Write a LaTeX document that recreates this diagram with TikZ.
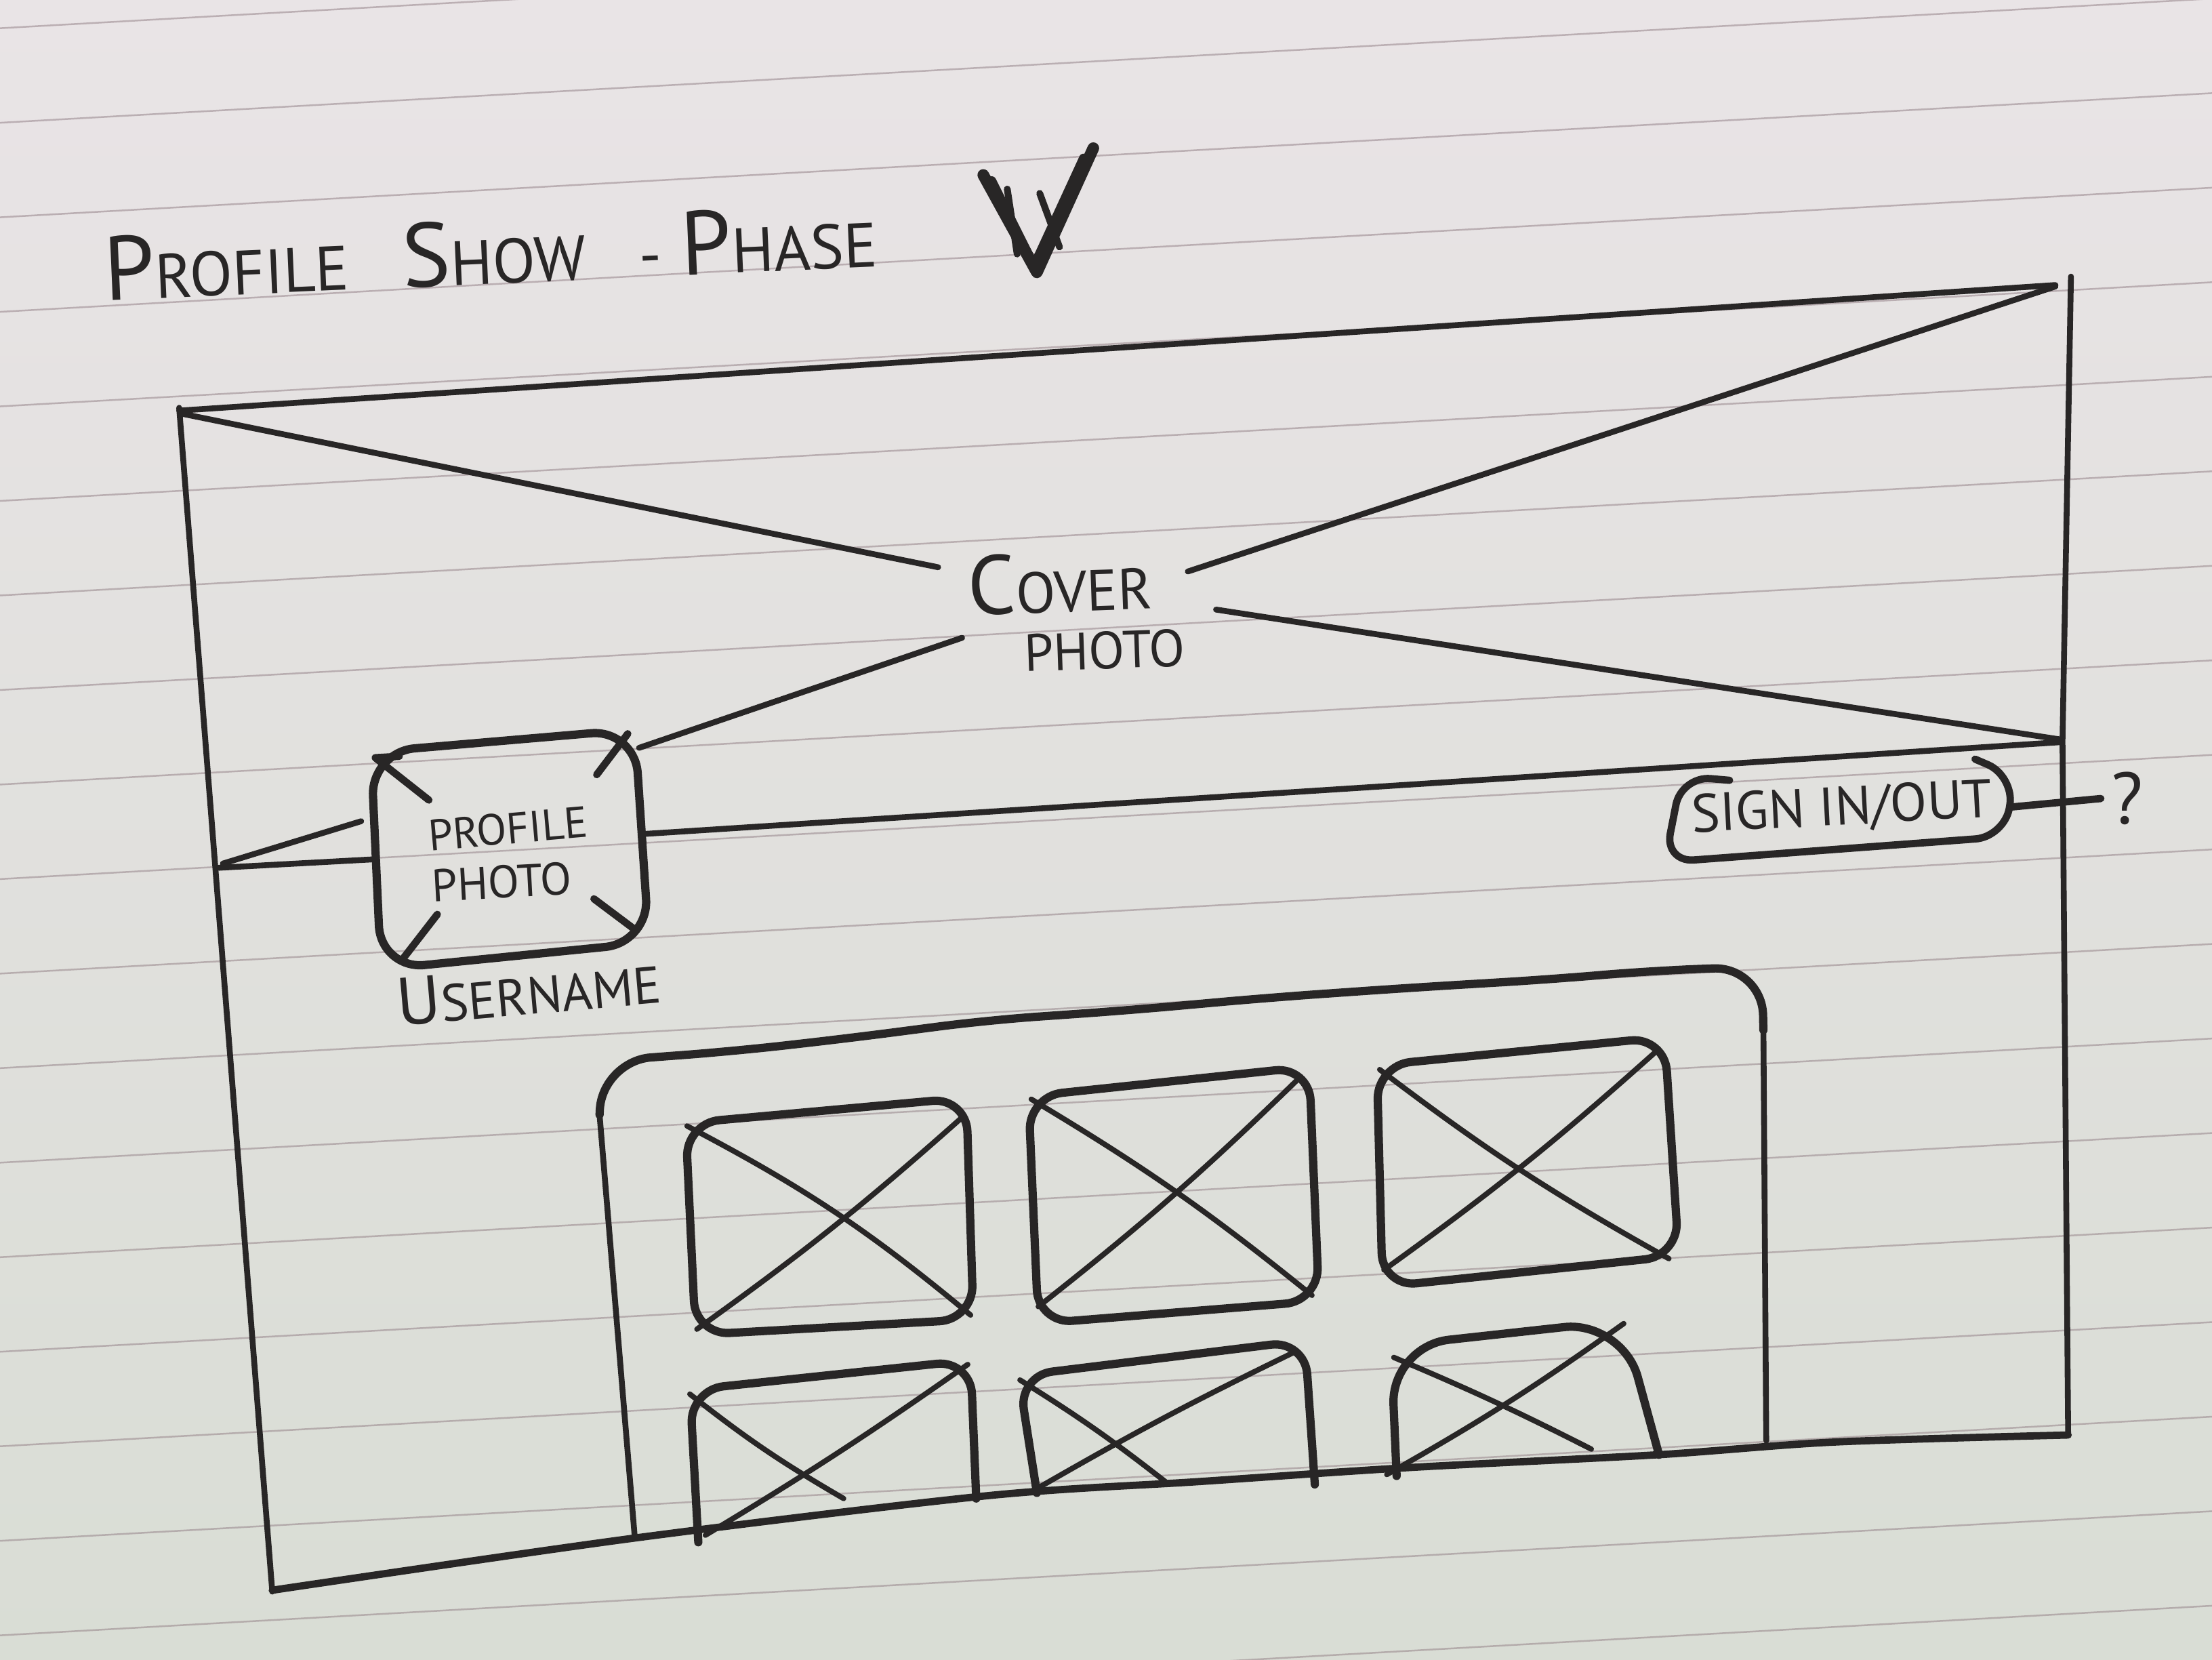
\documentclass[tikz,border=0pt]{standalone}
\usepackage{graphicx}
\usepackage{fontspec}
\newfontfamily\hand{PT Sans}
\usepackage{tikz}

\definecolor{paperhi}{RGB}{233,228,230}
\definecolor{paperlo}{RGB}{217,221,213}
\definecolor{rulegrey}{RGB}{150,132,138}
\definecolor{inkgrey}{RGB}{40,38,38}

% first letter of a word drawn taller
\newcommand{\hcap}[2]{\scalebox{1.45}{#1}#2}

\tikzset{
	pen/.style      = {draw=inkgrey, line width=1.2pt, line cap=round, line join=round},
	boxpen/.style   = {pen, line width=1.7pt, rounded corners=7pt},
	crosspen/.style = {pen, line width=1.1pt},
	ruleline/.style = {draw=rulegrey, line width=0.35pt, opacity=0.55},
	scrawl/.style   = {text=inkgrey, inner sep=0pt, anchor=base west}
}

\begin{document}
\begin{tikzpicture}[x=0.010204cm, y=-0.010204cm]
	% sheet
	\shade[top color=paperhi, bottom color=paperlo] (0,0) rectangle (1568,1176);
	\useasboundingbox (0,0) rectangle (1568,1176);
	\foreach \k in {-3,...,15}
		\draw[ruleline] (0,{221+67*\k}) -- (1568,{133+67*\k});
	
	% heading
	\node[scrawl, rotate=2.5, font=\hand\fontsize{12.9}{13}\selectfont] (title) at (74,213)
		{\hcap{P}{ROFILE}\hspace{11pt}\hcap{S}{HOW}\hspace{11pt}-\hspace{4pt}\hcap{P}{HASE}};
	\draw[pen, line width=2.4pt] (697,124) -- (735,193) -- (775,105);
	\draw[pen, line width=1.8pt] (703,128) -- (733,188) -- (768,112);
	\draw[pen, line width=1.4pt] (714,134) -- (721,180);
	\draw[pen, line width=1.4pt] (737,137) -- (751,175);
	
	% page frame
	\draw[pen] (127,291) -- (1457,202);
	\draw[pen] (127,289) -- (193,1128);
	\draw[pen] (1468,196) -- (1462,525) -- (1466,1016);
	\draw[pen, line width=1.5pt] plot[smooth] coordinates
		{(193,1127) (450,1090) (700,1060) (850,1050) (1000,1040) (1175,1031) (1300,1022) (1466,1017)};
	
	% cover photo
	\draw[pen] (155,615) -- (265,609);
	\draw[pen] (457,591) -- (1000,556) -- (1460,526);
	\draw[pen] (128,293) -- (665,402);
	\draw[pen] (862,432) -- (1460,524);
	\draw[pen] (1457,203) -- (842,405);
	\draw[pen] (682,452) -- (453,530);
	\draw[pen] (256,582) -- (158,612);
	\node[scrawl, rotate=2, font=\hand\fontsize{11.9}{12}\selectfont] (cover1) at (686,436) {\hcap{C}{OVER}};
	\node[scrawl, rotate=2, font=\hand\fontsize{10.8}{11}\selectfont] (cover2) at (726,476) {PHOTO};
	
	% profile photo
	\draw[boxpen, rounded corners=9pt] (263,533) -- (450,517) -- (460,668) -- (270,687) -- cycle;
	\draw[pen, line width=1.5pt] (304,567) -- (266,537) -- (283,536);
	\draw[pen, line width=1.5pt] (423,549) -- (445,520);
	\draw[pen, line width=1.5pt] (310,648) -- (286,679);
	\draw[pen, line width=1.5pt] (421,637) -- (449,658);
	\node[scrawl, rotate=5, font=\hand\fontsize{9}{10}\selectfont] (pp1) at (304,603) {PROFILE};
	\node[scrawl, rotate=3, font=\hand\fontsize{9.4}{10}\selectfont] (pp2) at (306,639) {PHOTO};
	\node[scrawl, rotate=5, font=\hand\fontsize{10.7}{11}\selectfont] (user) at (282,727) {\scalebox{1.3}{U}SERNAME};
	
	% sign in / out
	\draw[pen, line width=1.5pt, rounded corners=6pt]
		(1226,553) -- (1192,550) -- (1180,611) -- (1421,593) -- (1428,550) -- (1400,538);
	\coordinate (signR) at (1425,572);
	\node[scrawl, rotate=3, font=\hand\fontsize{11.1}{12}\selectfont] (sign) at (1199,590) {SIGN IN/OUT};
	\node[text=inkgrey, inner sep=2pt, anchor=base, font=\hand\fontsize{15}{16}\selectfont] (ask) at (1508,584) {?};
	\draw[pen, line width=1.5pt] (signR) -- (ask.west);
	
	% photo feed
	\draw[pen] (450,1090) -- (425,790);
	\draw[boxpen, rounded corners=10pt] (425,790) -- (427,752) -- (520,745) -- (600,736)
		-- (700,723) -- (800,716) -- (900,707) -- (1000,700) -- (1100,694) -- (1170,688) -- (1249,685) -- (1250,730);
	\draw[pen] (1250,730) -- (1252,1021);
	
	\draw[boxpen] (486,796) -- (685,778) -- (690,935) -- (493,946) -- cycle;
	\draw[boxpen] (729,777) -- (928,756) -- (935,922) -- (736,938) -- cycle;
	\draw[boxpen] (976,755) -- (1180,735) -- (1190,890) -- (980,912) -- cycle;
	\draw[boxpen] (495,1093) -- (489,985) -- (688,964) -- (692,1062);
	\draw[boxpen] (735,1058) -- (722,975) -- (925,950) -- (932,1052);
	\draw[boxpen, rounded corners=12pt] (990,1046) -- (986,954) -- (1150,936) -- (1176,1031);
	
	\draw[crosspen] (487,798) to[bend left=6] (688,932);
	\draw[crosspen] (683,791) to[bend left=3] (494,942);
	\draw[crosspen] (731,779) to[bend left=4] (930,918);
	\draw[crosspen] (922,763) to[bend left=3] (736,926);
	\draw[crosspen] (978,758) to[bend right=4] (1183,892);
	\draw[crosspen] (1173,746) to[bend left=3] (981,900);
	\draw[crosspen] (489,988) to[bend right=4] (598,1062);
	\draw[crosspen] (686,967) to[bend left=2] (500,1088);
	\draw[crosspen] (723,978) to[bend left=3] (826,1050);
	\draw[crosspen] (918,958) to[bend right=2] (735,1055);
	\draw[crosspen] (988,962) to[bend left=2] (1128,1027);
	\draw[crosspen] (1151,938) to[bend left=3] (983,1045);
\end{tikzpicture}
\end{document}
